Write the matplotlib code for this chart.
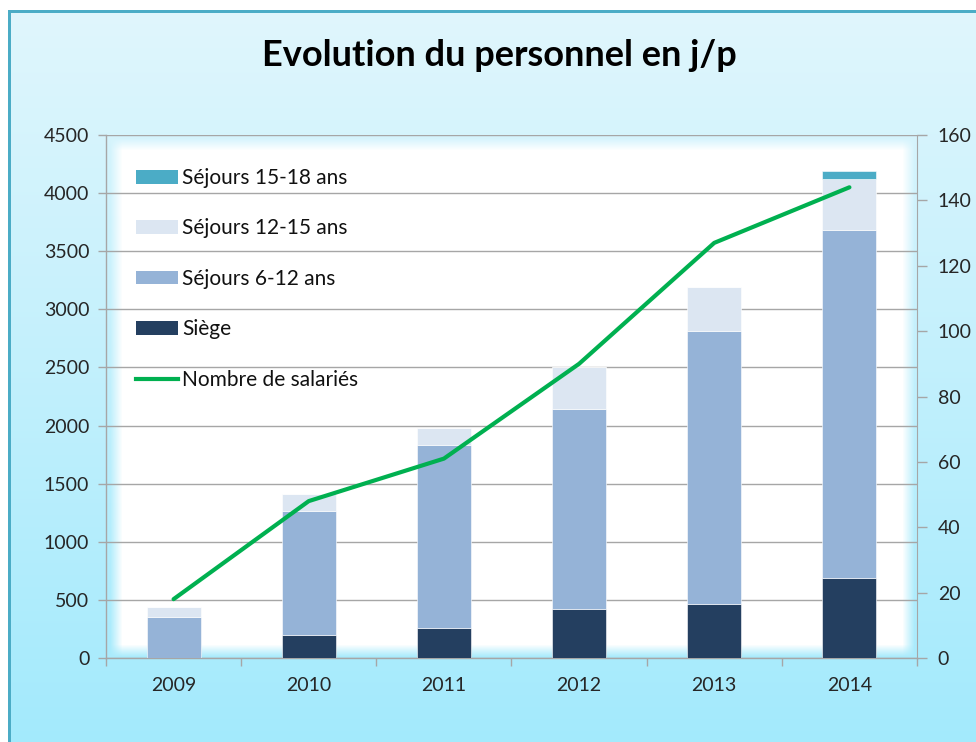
import numpy as np
import matplotlib
matplotlib.use("Agg")
import matplotlib.pyplot as plt
from matplotlib.patches import Patch
from matplotlib.lines import Line2D
from matplotlib.ticker import MultipleLocator, FixedLocator

plt.rcParams['font.family'] = ['Lato', 'DejaVu Sans']

# ---- data ----
years = ['2009', '2010', '2011', '2012', '2013', '2014']
siege = [0, 200, 258, 420, 462, 688]
sejours_6_12 = [355, 1062, 1575, 1725, 2352, 2995]
sejours_12_15 = [80, 149, 149, 357, 379, 439]
sejours_15_18 = [0, 0, 0, 0, 0, 72]
salaries = [18, 48, 61, 90, 127, 144]

title = "Evolution du personnel en j/p"
lbl_siege = "Siège"
lbl_6_12 = "Séjours 6-12 ans"
lbl_12_15 = "Séjours 12-15 ans"
lbl_15_18 = "Séjours 15-18 ans"
lbl_sal = "Nombre de salariés"

c_siege = '#243f60'
c_6_12 = '#95b3d7'
c_12_15 = '#dce6f2'
c_15_18 = '#4bacc6'
c_line = '#00b050'
c_grid = '#a6a6a6'
c_text = '#262626'

W, H = 976, 742
fig = plt.figure(figsize=(W / 100, H / 100), dpi=100)

# ---- background image ----
yy = np.arange(H)[:, None] * np.ones((1, W))
xx = np.ones((H, 1)) * np.arange(W)[None, :]
top = np.array([224, 246, 253]) / 255.0
bot = np.array([163, 234, 252]) / 255.0
t = np.clip((yy - 12) / (H - 12), 0, 1)[..., None]
img = top * (1 - t) + bot * t

def ramp(v, a, b, w):
    return np.clip((v - a) / w, 0, 1) * np.clip((b - v) / w, 0, 1)

m = (ramp(xx, 110, 914, 12) * ramp(yy, 138, 656, 12))[..., None]
img = img * (1 - m) + m * 1.0
# outer white margin and border
img[:10, :, :] = 1.0
img[:, :8, :] = 1.0
border = np.array([75, 172, 198]) / 255.0
img[10:13, 8:, :] = border
img[10:, 8:11, :] = border
fig.figimage(img, 0, 0, origin='upper', zorder=-10)

# ---- axes ----
ax = fig.add_axes([106 / W, 1 - 658 / H, (917 - 106) / W, (658 - 135) / H])
ax.set_facecolor('none')
x = np.arange(len(years))
bw = 0.4
b1 = np.array(siege)
b2 = b1 + np.array(sejours_6_12)
b3 = b2 + np.array(sejours_12_15)
ax.bar(x, siege, bw, color=c_siege, edgecolor='white', linewidth=0.4, zorder=3)
ax.bar(x, sejours_6_12, bw, bottom=b1, color=c_6_12, edgecolor='white', linewidth=0.4, zorder=3)
ax.bar(x, sejours_12_15, bw, bottom=b2, color=c_12_15, edgecolor='white', linewidth=0.4, zorder=3)
ax.bar(x, sejours_15_18, bw, bottom=b3, color=c_15_18, edgecolor='white', linewidth=0.4, zorder=3)

ax.set_xlim(-0.5, len(years) - 0.5)
ax.set_ylim(0, 4500)
ax.yaxis.set_major_locator(MultipleLocator(500))
ax.grid(axis='y', color=c_grid, linewidth=1.0, zorder=1)
ax.set_axisbelow(True)
ax.set_xticks(x)
ax.set_xticklabels(years)
ax.xaxis.set_minor_locator(FixedLocator(np.arange(-0.5, len(years), 1.0)))
ax.tick_params(axis='x', which='major', length=0, pad=14, labelsize=14, labelcolor=c_text)
ax.tick_params(axis='x', which='minor', length=6, width=1, color=c_grid, direction='out')
ax.tick_params(axis='y', length=6, width=1, color=c_grid, labelsize=14, labelcolor=c_text, pad=6)
for s in ['top', 'right']:
    ax.spines[s].set_visible(False)
for s in ['left', 'bottom']:
    ax.spines[s].set_color(c_grid)
    ax.spines[s].set_linewidth(1.0)

ax2 = ax.twinx()
ax2.set_facecolor('none')
ax2.plot(x, salaries, color=c_line, linewidth=3.0, solid_capstyle='round', zorder=5)
ax2.set_ylim(0, 160)
ax2.yaxis.set_major_locator(MultipleLocator(20))
ax2.tick_params(axis='y', length=7, width=1, color=c_grid, labelsize=14, labelcolor=c_text, pad=8)
for s in ['top', 'left', 'bottom']:
    ax2.spines[s].set_visible(False)
ax2.spines['right'].set_color(c_grid)

handles = [Patch(facecolor=c_15_18), Patch(facecolor=c_12_15), Patch(facecolor=c_6_12),
           Patch(facecolor=c_siege), Line2D([0], [0], color=c_line, linewidth=3.0)]
labels = [lbl_15_18, lbl_12_15, lbl_6_12, lbl_siege, lbl_sal]
leg = ax2.legend(handles, labels, loc='upper left', bbox_to_anchor=(136 / W, 1 - 168 / H),
                 bbox_transform=fig.transFigure, frameon=False, fontsize=15,
                 handlelength=2.0, handleheight=0.65, handletextpad=0.2,
                 labelspacing=1.46, borderpad=0, borderaxespad=0)
for txt in leg.get_texts():
    txt.set_color('#111111')

fig.text(499 / W, 1 - 56 / H, title, ha='center', va='center', fontsize=26,
         fontweight='bold', color='black')

fig.savefig('out.png', dpi=100)
